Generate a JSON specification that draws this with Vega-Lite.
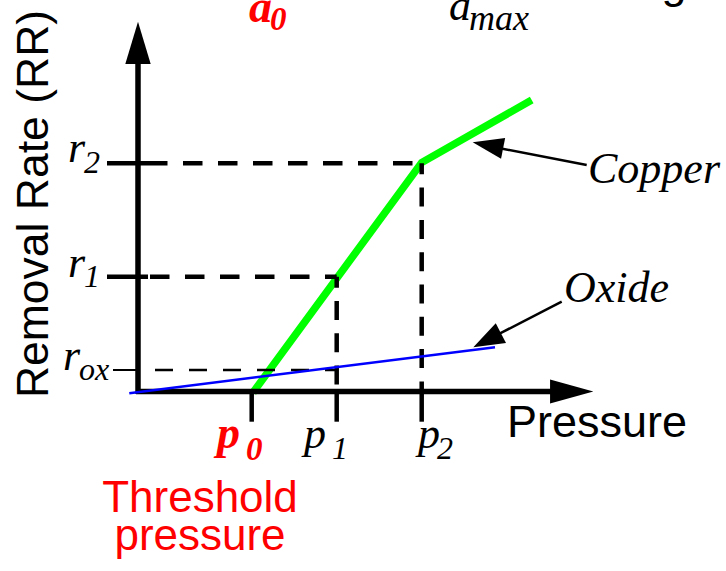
{
  "$schema": "https://vega.github.io/schema/vega-lite/v6.json",
  "width": 726,
  "height": 571,
  "padding": 0,
  "autosize": {"type": "none"},
  "background": "white",
  "config": {"view": {"stroke": null}},
  "datasets": {
    "axes": [{"x": 0, "y": -0.25, "x2": 0, "y2": 33.2}, {"x": -0.2, "y": 0, "x2": 41.7, "y2": 0}],
    "ticks": [
      {"x": -3.1, "y": 22.82, "x2": 1.0, "y2": 22.82},
      {"x": -3.1, "y": 11.48, "x2": 1.0, "y2": 11.48},
      {"x": 11.37, "y": 0, "x2": 11.37, "y2": -3.02},
      {"x": 19.87, "y": 0, "x2": 19.87, "y2": -3.02},
      {"x": 28.37, "y": 0, "x2": 28.37, "y2": -3.02}
    ],
    "tickThin": [{"x": -2.5, "y": 2.15, "x2": -0.1, "y2": 2.15}],
    "dashH": [{"x": 1.0, "y": 22.82, "x2": 28.37, "y2": 22.82}, {"x": 1.2, "y": 11.48, "x2": 19.87, "y2": 11.48}],
    "dashV": [{"x": 28.37, "y": 22.82, "x2": 28.37, "y2": 0}, {"x": 19.87, "y": 11.48, "x2": 19.87, "y2": 0}],
    "dashThin": [{"x": 1.7, "y": 2.15, "x2": 20.0, "y2": 2.15}],
    "copper": [{"x": 11.5, "y": -0.1, "o": 1}, {"x": 28.37, "y": 22.9, "o": 2}, {"x": 39.37, "y": 29.15, "o": 3}],
    "oxide": [{"x": -0.87, "y": -0.18, "o": 1}, {"x": 35.7, "y": 4.42, "o": 2}],
    "pointers": [{"x": 44.87, "y": 22.65, "x2": 35.7, "y2": 24.42}, {"x": 42.37, "y": 8.98, "x2": 35.4, "y2": 5.4}],
    "headY": [{"x": 0, "y": 34.87}],
    "headX": [{"x": 43.37, "y": 0}],
    "headCu": [{"x": 34.99, "y": 24.62}],
    "headOx": [{"x": 34.91, "y": 5.13}],
    "serifMain": [
      {"x": -7.0, "y": 22.95, "t": "r"},
      {"x": -7.0, "y": 11.5, "t": "r"},
      {"x": -7.5, "y": 2.15, "t": "r"},
      {"x": 16.6, "y": -5.65, "t": "p"},
      {"x": 28.0, "y": -5.65, "t": "p"},
      {"x": 31.1, "y": 37.15, "t": "a"}
    ],
    "serifSub": [
      {"x": -5.4, "y": 21.85, "t": "2"},
      {"x": -5.4, "y": 10.48, "t": "1"},
      {"x": -5.9, "y": 1.15, "t": "ox"},
      {"x": 19.4, "y": -6.75, "t": "1"},
      {"x": 29.9, "y": -6.75, "t": "2"}
    ],
    "maxSub": [{"x": 33.1, "y": 36.15, "t": "max"}],
    "names": [{"x": 45.0, "y": 20.85, "t": "Copper"}, {"x": 42.6, "y": 8.98, "t": "Oxide"}],
    "redMain": [{"x": 7.9, "y": -5.65, "t": "p"}, {"x": 11.1, "y": 37.0, "t": "a"}],
    "redSub": [{"x": 10.8, "y": -6.85, "t": "0"}, {"x": 13.2, "y": 36.15, "t": "0"}],
    "sansLeft": [{"x": 36.9, "y": -4.52, "t": "Pressure"}],
    "sansCenter": [{"x": 53.6, "y": 39.35, "t": "g"}],
    "ylabel": [{"x": -9.0, "y": 18.75, "t": "Removal Rate (RR)"}],
    "redSans": [{"x": 6.2, "y": -12.02, "t": "Threshold"}, {"x": 6.2, "y": -15.85, "t": "pressure"}]
  },
  "encoding": {
    "x": {"field": "x", "type": "quantitative", "scale": {"domain": [-13.8, 58.8], "nice": false, "zero": false}, "axis": null},
    "y": {"field": "y", "type": "quantitative", "scale": {"domain": [-17.95, 39.15], "nice": false, "zero": false}, "axis": null}
  },
  "layer": [
    {"data": {"name": "copper"}, "mark": {"type": "line", "color": "#00ff00", "strokeWidth": 7.5, "strokeCap": "butt"}, "encoding": {"order": {"field": "o"}}},
    {"data": {"name": "dashH"}, "mark": {"type": "rule", "color": "black", "strokeWidth": 4.5, "strokeDash": [19.5, 15.5]}, "encoding": {"x2": {"field": "x2"}, "y2": {"field": "y2"}}},
    {"data": {"name": "dashV"}, "mark": {"type": "rule", "color": "black", "strokeWidth": 4.5, "strokeDash": [19, 13.3], "strokeDashOffset": 8}, "encoding": {"x2": {"field": "x2"}, "y2": {"field": "y2"}}},
    {"data": {"name": "dashThin"}, "mark": {"type": "rule", "color": "black", "strokeWidth": 2.5, "strokeDash": [18, 16]}, "encoding": {"x2": {"field": "x2"}, "y2": {"field": "y2"}}},
    {"data": {"name": "ticks"}, "mark": {"type": "rule", "color": "black", "strokeWidth": 4.5}, "encoding": {"x2": {"field": "x2"}, "y2": {"field": "y2"}}},
    {"data": {"name": "tickThin"}, "mark": {"type": "rule", "color": "black", "strokeWidth": 2}, "encoding": {"x2": {"field": "x2"}, "y2": {"field": "y2"}}},
    {"data": {"name": "axes"}, "mark": {"type": "rule", "color": "black", "strokeWidth": 5.5}, "encoding": {"x2": {"field": "x2"}, "y2": {"field": "y2"}}},
    {"data": {"name": "oxide"}, "mark": {"type": "line", "color": "#0000ff", "strokeWidth": 2.5}, "encoding": {"order": {"field": "o"}}},
    {"data": {"name": "pointers"}, "mark": {"type": "rule", "color": "black", "strokeWidth": 2.5}, "encoding": {"x2": {"field": "x2"}, "y2": {"field": "y2"}}},
    {"data": {"name": "headY"}, "mark": {"type": "point", "filled": true, "color": "black", "opacity": 1, "shape": "M0,-1L0.6,1L-0.6,1Z", "size": 1789, "angle": 0}},
    {"data": {"name": "headX"}, "mark": {"type": "point", "filled": true, "color": "black", "opacity": 1, "shape": "M0,-1L0.55,1L-0.55,1Z", "size": 1875, "angle": 90}},
    {"data": {"name": "headCu"}, "mark": {"type": "point", "filled": true, "color": "black", "opacity": 1, "shape": "M0,-1L0.68,1L-0.68,1Z", "size": 961, "angle": 281.2}},
    {"data": {"name": "headOx"}, "mark": {"type": "point", "filled": true, "color": "black", "opacity": 1, "shape": "M0,-1L0.72,1L-0.72,1Z", "size": 961, "angle": 242.7}},
    {"data": {"name": "serifMain"}, "mark": {"type": "text", "font": "Liberation Serif", "fontStyle": "italic", "fontSize": 44, "color": "black", "align": "left", "baseline": "alphabetic"}, "encoding": {"text": {"field": "t"}}},
    {"data": {"name": "serifSub"}, "mark": {"type": "text", "font": "Liberation Serif", "fontStyle": "italic", "fontSize": 32, "color": "black", "align": "left", "baseline": "alphabetic"}, "encoding": {"text": {"field": "t"}}},
    {"data": {"name": "maxSub"}, "mark": {"type": "text", "font": "Liberation Serif", "fontStyle": "italic", "fontSize": 36, "color": "black", "align": "left", "baseline": "alphabetic"}, "encoding": {"text": {"field": "t"}}},
    {"data": {"name": "names"}, "mark": {"type": "text", "font": "Liberation Serif", "fontStyle": "italic", "fontSize": 44, "color": "black", "align": "left", "baseline": "alphabetic"}, "encoding": {"text": {"field": "t"}}},
    {"data": {"name": "redMain"}, "mark": {"type": "text", "font": "Liberation Serif", "fontStyle": "italic", "fontWeight": "bold", "fontSize": 46, "color": "#ff0000", "align": "left", "baseline": "alphabetic"}, "encoding": {"text": {"field": "t"}}},
    {"data": {"name": "redSub"}, "mark": {"type": "text", "font": "Liberation Serif", "fontStyle": "italic", "fontWeight": "bold", "fontSize": 33, "color": "#ff0000", "align": "left", "baseline": "alphabetic"}, "encoding": {"text": {"field": "t"}}},
    {"data": {"name": "sansLeft"}, "mark": {"type": "text", "font": "Liberation Sans", "fontSize": 45, "color": "black", "align": "left", "baseline": "alphabetic"}, "encoding": {"text": {"field": "t"}}},
    {"data": {"name": "sansCenter"}, "mark": {"type": "text", "font": "Liberation Sans", "fontSize": 45, "color": "black", "align": "center", "baseline": "alphabetic"}, "encoding": {"text": {"field": "t"}}},
    {"data": {"name": "ylabel"}, "mark": {"type": "text", "font": "Liberation Sans", "fontSize": 44.5, "color": "black", "align": "center", "baseline": "alphabetic", "angle": 270}, "encoding": {"text": {"field": "t"}}},
    {"data": {"name": "redSans"}, "mark": {"type": "text", "font": "Liberation Sans", "fontSize": 44, "color": "#ff0000", "align": "center", "baseline": "alphabetic"}, "encoding": {"text": {"field": "t"}}}
  ]
}
